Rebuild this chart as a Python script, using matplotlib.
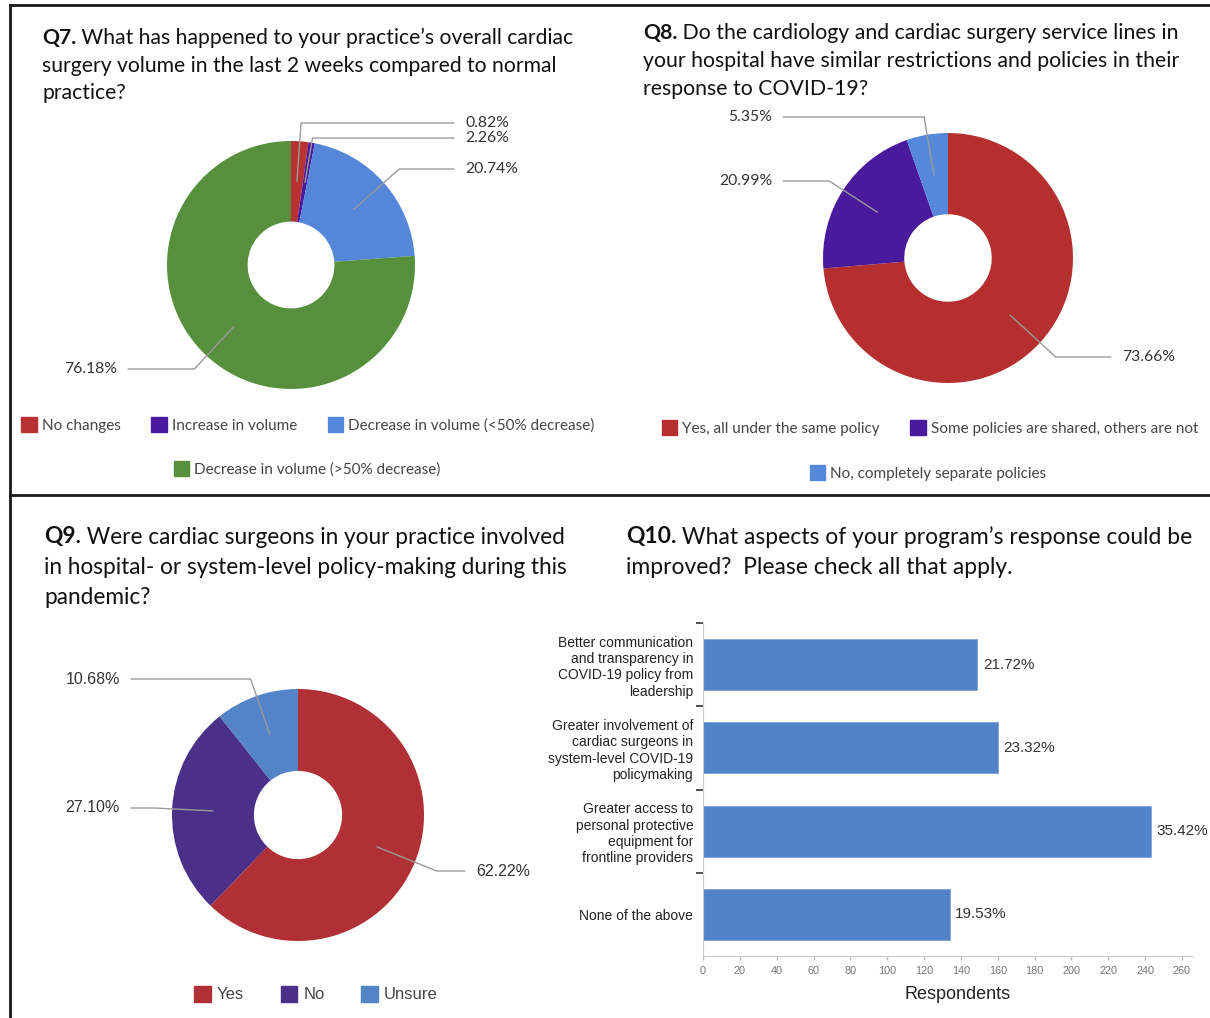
import matplotlib
matplotlib.use("Agg")
import matplotlib.pyplot as plt
import numpy as np
from matplotlib.lines import Line2D
from matplotlib.patches import Patch

W, H = 1210, 1018

Q7_TITLE = ["Q7. What has happened to your practice\u2019s overall cardiac",
            "surgery volume in the last 2 weeks compared to normal",
            "practice?"]
Q7_CATS = ["No changes", "Increase in volume",
           "Decrease in volume (<50% decrease)", "Decrease in volume (>50% decrease)"]
Q7_VALUES = [2.26, 0.82, 20.74, 76.18]
Q7_LABELS = ["0.82%", "2.26%", "20.74%", "76.18%"]
Q7_COLORS = ["#B83232", "#4A1A9E", "#5486DA", "#57903D"]

Q8_TITLE = ["Q8. Do the cardiology and cardiac surgery service lines in",
            "your hospital have similar restrictions and policies in their",
            "response to COVID-19?"]
Q8_CATS = ["Yes, all under the same policy", "Some policies are shared, others are not",
           "No, completely separate policies"]
Q8_VALUES = [73.66, 20.99, 5.35]
Q8_COLORS = ["#B52F2F", "#4A1A9C", "#5587DA"]

Q9_TITLE = ["Q9. Were cardiac surgeons in your practice involved",
            "in hospital- or system-level policy-making during this",
            "pandemic?"]
Q9_CATS = ["Yes", "No", "Unsure"]
Q9_VALUES = [62.22, 27.10, 10.68]
Q9_COLORS = ["#B03035", "#4A3088", "#5384C8"]

Q10_TITLE = ["Q10. What aspects of your program\u2019s response could be",
             "improved?  Please check all that apply."]
Q10_CATS = ["Better communication\nand transparency in\nCOVID-19 policy from\nleadership",
            "Greater involvement of\ncardiac surgeons in\nsystem-level COVID-19\npolicymaking",
            "Greater access to\npersonal protective\nequipment for\nfrontline providers",
            "None of the above"]
Q10_COUNTS = [149, 160, 243, 134]
Q10_PCT = [21.72, 23.32, 35.42, 19.53]
Q10_TICKS = list(range(0, 261, 20))

TITLE_FONT = ["Lato", "DejaVu Sans"]
LABEL_FONT = ["Lato", "DejaVu Sans"]
ARIAL = ["Liberation Sans", "DejaVu Sans"]
HOLE = 0.65

fig = plt.figure(figsize=(W / 100, H / 100), dpi=100)
renderer = fig.canvas.get_renderer()


def title(x, y, lines, size, step):
    prefix, first = lines[0].split(" ", 1)
    t = fig.text(x / W, 1 - y / H, prefix, fontsize=size, fontweight="bold",
                 family=TITLE_FONT, va="center", ha="left", color="#111111")
    bb = t.get_window_extent(renderer)
    fig.text(bb.x1 / W, 1 - y / H, " " + first, fontsize=size, family=TITLE_FONT,
             va="center", ha="left", color="#111111")
    for i, line in enumerate(lines[1:], 1):
        fig.text(x / W, 1 - (y + i * step) / H, line, fontsize=size, family=TITLE_FONT,
                 va="center", ha="left", color="#111111")


def donut(cx, cy, r, values, colors):
    ax = fig.add_axes([(cx - r) / W, 1 - (cy + r) / H, 2 * r / W, 2 * r / H])
    wedges, _ = ax.pie(values, colors=colors, startangle=90, counterclock=False,
                       radius=1, wedgeprops=dict(width=HOLE, linewidth=0))
    ax.set_xlim(-1, 1)
    ax.set_ylim(-1, 1)
    ax.axis("off")
    return ax, wedges


def leader(ax, wedge, text, tx, ty, ha, font, size):
    deg = (wedge.theta1 + wedge.theta2) / 2
    ang = np.deg2rad(deg)
    rmid = 1 - HOLE / 2
    xy = (rmid * np.cos(ang), rmid * np.sin(ang))
    ax.annotate(text, xy=xy, xycoords="data", xytext=(tx, H - ty), textcoords="figure pixels",
                ha=ha, va="center", fontsize=size, family=font, color="#333333",
                annotation_clip=False,
                arrowprops=dict(arrowstyle="-", color="#9a9a9a", lw=1, shrinkA=6, shrinkB=0,
                                connectionstyle="angle,angleA=0,angleB=%.2f,rad=0" % deg))


def legend(cats, colors, cx, cy, size, font, ncol, spacing):
    handles = [Patch(facecolor=c, edgecolor=c, label=l) for l, c in zip(cats, colors)]
    fig.legend(handles=handles, loc="center", bbox_to_anchor=(cx / W, 1 - cy / H),
               ncol=ncol, frameon=False, handlelength=1.0, handleheight=1.15,
               handletextpad=0.35, columnspacing=spacing,
               prop=dict(family=font, size=size), labelcolor="#444444")


# frame lines
for (x0, y0, x1, y1) in [(10, 5, W, 5), (10, 5, 10, H), (10, 495, W, 495)]:
    fig.add_artist(Line2D([x0 / W, x1 / W], [1 - y0 / H, 1 - y1 / H], color="#1a1a1a",
                          lw=2, transform=fig.transFigure))

# Q7
title(42, 38, Q7_TITLE, 15.2, 27.5)
ax7, w7 = donut(291, 265, 124, Q7_VALUES, Q7_COLORS)
for w, lab, (tx, ty, ha) in zip(w7, Q7_LABELS,
                                [(465, 123, "left"), (465, 138, "left"),
                                 (465, 169, "left"), (117, 369, "right")]):
    leader(ax7, w, lab, tx, ty, ha, LABEL_FONT, 11.3)
legend(Q7_CATS[:3], Q7_COLORS[:3], 308, 425, 11, LABEL_FONT, 3, 2.0)
legend(Q7_CATS[3:], Q7_COLORS[3:], 307, 469, 11, LABEL_FONT, 1, 2.0)

# Q8
title(643, 33, Q8_TITLE, 15.3, 28)
ax8, w8 = donut(948, 258, 125, Q8_VALUES, Q8_COLORS)
for w, v, (tx, ty, ha) in zip(w8, Q8_VALUES,
                              [(1122, 357, "left"), (772, 181, "right"), (772, 117, "right")]):
    leader(ax8, w, "%.2f%%" % v, tx, ty, ha, LABEL_FONT, 11.3)
legend(Q8_CATS[:2], Q8_COLORS[:2], 930, 428, 11, LABEL_FONT, 2, 2.0)
legend(Q8_CATS[2:], Q8_COLORS[2:], 928, 473, 11, LABEL_FONT, 1, 2.0)

# Q9
title(44, 537, Q9_TITLE, 16.3, 30)
ax9, w9 = donut(298, 815, 126, Q9_VALUES, Q9_COLORS)
for w, v, (tx, ty, ha) in zip(w9, Q9_VALUES,
                              [(476, 871, "left"), (120, 808, "right"), (120, 679, "right")]):
    leader(ax9, w, "%.2f%%" % v, tx, ty, ha, ARIAL, 11.5)
legend(Q9_CATS, Q9_COLORS, 316, 994, 12, ARIAL, 3, 2.2)

# Q10
title(626, 537, Q10_TITLE, 16.5, 30)
ax = fig.add_axes([703 / W, 1 - 956 / H, (1193 - 703) / W, (956 - 623) / H])
ypos = np.arange(len(Q10_CATS))
bars = ax.barh(ypos, Q10_COUNTS, height=0.61, color="#5282C8", edgecolor="#7FA3DA", lw=0.6)
for b, p in zip(bars, Q10_PCT):
    ax.text(b.get_width() + 3, b.get_y() + b.get_height() / 2, "%.2f%%" % p,
            va="center", ha="left", fontsize=11, family=ARIAL, color="#333333", clip_on=False)
ax.set_xlim(0, 266)
ax.set_ylim(len(Q10_CATS) - 0.5, -0.5)
ax.set_yticks(ypos)
ax.set_yticklabels(Q10_CATS, fontsize=10, family=ARIAL, color="#222222")
ax.set_yticks(np.arange(len(Q10_CATS)) - 0.5, minor=True)
ax.tick_params(axis="y", which="major", length=0, pad=7)
ax.tick_params(axis="y", which="minor", length=5, width=1.2, color="#333333")
ax.set_xticks(Q10_TICKS)
ax.tick_params(axis="x", length=3, width=1, color="#bbbbbb", labelsize=7.8,
               labelcolor="#777777", pad=4)
for lab in ax.get_xticklabels():
    lab.set_family(ARIAL)
ax.set_xlabel("Respondents", fontsize=13, family=ARIAL, color="#222222", labelpad=12)
ax.xaxis.set_label_coords(0.52, -0.09)
for s in ["top", "right"]:
    ax.spines[s].set_visible(False)
for s in ["left", "bottom"]:
    ax.spines[s].set_color("#cccccc")

fig.savefig("out.png", dpi=100)
